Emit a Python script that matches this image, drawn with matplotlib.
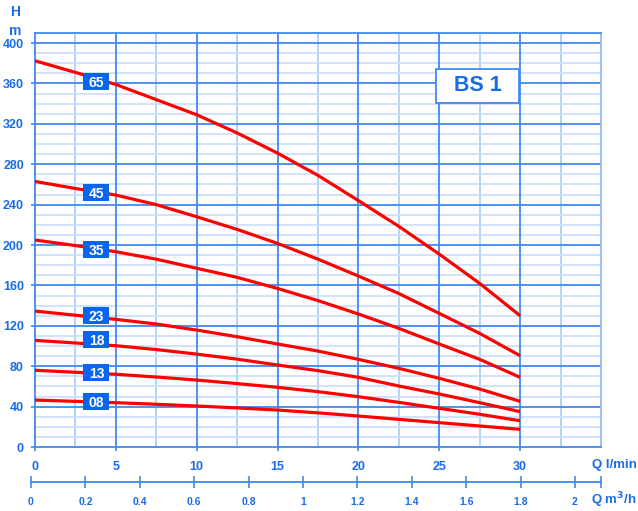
import numpy as np
import matplotlib.pyplot as plt
from matplotlib.patches import Rectangle
from matplotlib.ticker import MultipleLocator, FixedLocator

plt.rcParams['font.family'] = ['Liberation Sans', 'DejaVu Sans']
plt.rcParams['font.weight'] = 'bold'

# flow in l/min and head in m
flow = [0, 2.5, 5, 7.5, 10, 12.5, 15, 17.5, 20, 22.5, 25, 27.5, 30]
head_65 = [382.5, 371, 359, 344, 329, 311, 291, 269, 244, 218.5, 191, 162, 130]
head_45 = [263, 256, 249.5, 240, 228, 215.5, 201.6, 186, 169.3, 152, 132.3, 112.5, 90.4]
head_35 = [205, 199.5, 193.4, 186, 177, 168, 157, 145, 131.7, 117.5, 102, 86.8, 69]
head_23 = [134.6, 130.5, 126.4, 121.8, 115.8, 109.2, 102, 95, 86.8, 77.9, 68, 57.4, 45.2]
head_18 = [105.6, 103, 100.3, 96.5, 92, 87, 81.2, 75.6, 69, 60.4, 52.5, 43.9, 35]
head_13 = [76, 74, 72, 69.3, 66.3, 62.8, 59.1, 54.8, 49.8, 44.2, 38.3, 32.4, 26]
head_08 = [46.5, 45.2, 43.9, 42.3, 40.6, 38.7, 36.6, 33.8, 30.7, 27.4, 24.1, 20.8, 17.5]

curves = [('65', head_65), ('45', head_45), ('35', head_35), ('23', head_23),
          ('18', head_18), ('13', head_13), ('08', head_08)]
# where the stage labels sit (Q, H)
label_q = 3.8
label_h = {'65': 362, '45': 252, '35': 196, '23': 130, '18': 106, '13': 74, '08': 45.5}

m3h_ticks = [0, 0.2, 0.4, 0.6, 0.8, 1, 1.2, 1.4, 1.6, 1.8, 2]
m3h_labels = ['0', '0.2', '0.4', '0.6', '0.8', '1', '1.2', '1.4', '1.6', '1.8', '2']

blue_txt = '#1a6be8'
major_c = '#4189f2'
minor_v = '#a6cbf8'
minor_h = '#c8ddfa'
box_c = '#0866ee'

W, H = 638, 511
fig = plt.figure(figsize=(W / 100, H / 100), dpi=100)

# main chart area in pixels: x 35..601, y 33..447
ax = fig.add_axes([35 / W, 1 - 447 / H, (601 - 35) / W, (447 - 33) / H])
ax.set_xlim(0, 35)
ax.set_ylim(0, 410)
px_q = 35 / (601 - 35)      # Q units per pixel
px_h = 410 / (447 - 33)     # H units per pixel

ax.xaxis.set_minor_locator(MultipleLocator(2.5))
ax.yaxis.set_major_locator(MultipleLocator(40))
ax.yaxis.set_minor_locator(MultipleLocator(10))
ax.set_xticks(range(0, 31, 5))

for q in np.arange(2.5, 35, 5):
    ax.axvline(q, color=minor_v, lw=1.2, zorder=1)
for h in range(10, 410, 10):
    if h % 40:
        ax.axhline(h, color=minor_h, lw=1.2, zorder=1)
for q in range(5, 35, 5):
    ax.axvline(q, color=major_c, lw=1.3, zorder=1.5)
for h in range(40, 410, 40):
    ax.axhline(h, color=major_c, lw=1.3, zorder=1.5)

for s in ax.spines.values():
    s.set_color(major_c)
    s.set_linewidth(1.3)
ax.spines['right'].set_color('#8fbdf6')

ax.tick_params(axis='both', which='major', colors=major_c, labelcolor=blue_txt,
               labelsize=9, length=3, width=1.2)
ax.tick_params(axis='both', which='minor', length=0)
ax.tick_params(axis='x', pad=7)
ax.tick_params(axis='y', pad=5)

for name, vals in curves:
    ax.plot(flow, vals, color='#ff0000', lw=2.3, solid_capstyle='butt', zorder=3)
    bw, bh = 26 * px_q, 17 * px_h
    ax.add_patch(Rectangle((label_q - bw / 2, label_h[name] - bh / 2), bw, bh,
                           fc=box_c, ec='none', zorder=4))
    ax.text(label_q, label_h[name], name, color='white', fontsize=10, fontweight='bold',
            ha='center', va='center_baseline', zorder=5)

# title box
ax.add_patch(Rectangle((0.7085, 0.831), 0.1465, 0.082, transform=ax.transAxes,
                       fc='white', ec=major_c, lw=1.3, zorder=4))
ax.text(0.7818, 0.872, 'BS 1', transform=ax.transAxes, color=blue_txt,
        fontsize=15.5, fontweight='bold', ha='center', va='center', zorder=5)

fig.text(15 / W, 1 - 12 / H, 'H', color=blue_txt, fontsize=10, fontweight='bold',
         ha='center', va='center')
fig.text(15 / W, 1 - 31 / H, 'm', color=blue_txt, fontsize=10, fontweight='bold',
         ha='center', va='center')
fig.text(637 / W, 1 - 465 / H, 'Q l/min', color=blue_txt, fontsize=9.5,
         fontweight='bold', ha='right', va='center')
fig.text(637 / W, 1 - 500 / H, 'Q m$^{3}$/h', color=blue_txt, fontsize=9.5,
         fontweight='bold', ha='right', va='center')

# second flow scale in m3/h
ax2 = fig.add_axes([31 / W, 1 - 482 / H, (601 - 31) / W, 0.001])
x2max = (601 - 31) / 272.0
ax2.set_xlim(0, x2max)
ax2.set_ylim(0, 1)
ax2.patch.set_alpha(0)
for k in ['top', 'left', 'right']:
    ax2.spines[k].set_visible(False)
ax2.spines['bottom'].set_color(major_c)
ax2.spines['bottom'].set_linewidth(1.3)
ax2.set_yticks([])
ax2.xaxis.set_major_locator(FixedLocator(m3h_ticks))
ax2.set_xticklabels(m3h_labels)
ax2.xaxis.set_minor_locator(FixedLocator([x2max]))
ax2.tick_params(axis='x', which='both', direction='inout', length=9, width=1.2,
                colors=major_c, labelcolor=blue_txt, labelsize=7.5, pad=6)

fig.savefig('out.png', dpi=100)
